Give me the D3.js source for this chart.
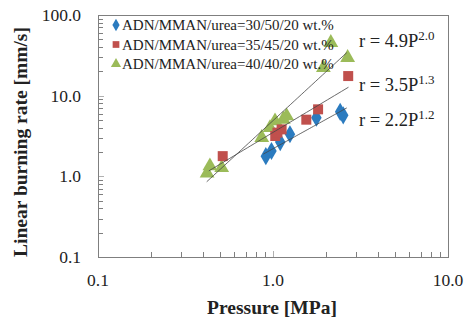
<!DOCTYPE html>
<html>
<head>
<meta charset="utf-8">
<script src="https://cdn.jsdelivr.net/npm/d3@7"></script>
<style>
  body { margin: 0; background: #fff; }
  text { font-family: "Liberation Serif", "Times New Roman", serif; fill: #222; }
</style>
</head>
<body>
<svg id="chart" width="467" height="320"></svg>
<script>
// series names
const seriesNames = [
  "ADN/MMAN/urea=30/50/20 wt.%",
  "ADN/MMAN/urea=35/45/20 wt.%",
  "ADN/MMAN/urea=40/40/20 wt.%"
];

// pressure [MPa] and burning rate [mm/s]
const pressure30 = [0.91, 0.98, 1.10, 1.25, 1.77, 2.42, 2.52];
const rate30 = [1.78, 2.06, 2.66, 3.32, 5.34, 6.3, 5.7];

const pressure35 = [0.516, 1.03, 1.06, 1.12, 1.55, 1.81, 2.69];
const rate35 = [1.78, 3.16, 3.48, 3.82, 5.04, 6.77, 17.5];

const pressure40 = [0.42, 0.436, 0.509, 0.862, 0.961, 1.027, 1.145, 1.197, 1.94, 2.14, 2.67];
const rate40 = [1.09, 1.34, 1.28, 3.02, 4.01, 4.84, 5.08, 5.59, 22.2, 45.4, 29.6];

// power law fits r = a P^n
const fitA = [2.2, 3.5, 4.9];
const fitN = [1.2, 1.3, 2.0];
const fitFrom = [0.88, 0.43, 0.418];
const fitTo = [2.64, 2.7, 2.64];
const fitLabels = ["2.2", "3.5", "4.9"];
const fitExpLabels = ["1.2", "1.3", "2.0"];

const xTicks = [0.1, 1, 10];
const yTicks = [0.1, 1, 10, 100];

const colors = ["#2b7bbf", "#c0504d", "#9bbb59"];
const shapes = [d3.symbolDiamond, d3.symbolSquare, d3.symbolTriangle];

const svg = d3.select("#chart");
const mLeft = 98, mRight = 448, mTop = 15, mBottom = 257;

const x = d3.scaleLog().domain([0.1, 10]).range([mLeft, mRight]);
const y = d3.scaleLog().domain([0.1, 100]).range([mBottom, mTop]);

// minor ticks
function minors(lo, hi) {
  let out = [];
  for (let e = lo; e < hi; e++) {
    for (let k = 2; k <= 9; k++) out.push(k * Math.pow(10, e));
  }
  return out;
}

const axes = svg.append("g").attr("stroke", "#7f7f7f").attr("stroke-width", 1);

axes.selectAll(".ym")
  .data(minors(-1, 2))
  .join("line")
  .attr("x1", mLeft).attr("x2", mLeft + 5)
  .attr("y1", d => Math.round(y(d)) + 0.5).attr("y2", d => Math.round(y(d)) + 0.5);

axes.selectAll(".yM")
  .data(yTicks)
  .join("line")
  .attr("stroke", "#b0b0b0")
  .attr("x1", mLeft).attr("x2", mLeft + 6)
  .attr("y1", d => Math.round(y(d)) + 0.5).attr("y2", d => Math.round(y(d)) + 0.5);

axes.selectAll(".xm")
  .data(minors(-1, 1))
  .join("line")
  .attr("y1", mBottom).attr("y2", mBottom - 5)
  .attr("x1", d => Math.round(x(d)) + 0.5).attr("x2", d => Math.round(x(d)) + 0.5);

axes.selectAll(".xM")
  .data(xTicks)
  .join("line")
  .attr("stroke", "#b0b0b0")
  .attr("y1", mBottom).attr("y2", mBottom - 6)
  .attr("x1", d => Math.round(x(d)) + 0.5).attr("x2", d => Math.round(x(d)) + 0.5);

svg.append("rect")
  .attr("x", mLeft + 0.5).attr("y", mTop + 0.5)
  .attr("width", mRight - mLeft).attr("height", mBottom - mTop)
  .attr("fill", "none").attr("stroke", "#7f7f7f");

// tick labels
svg.append("g").selectAll("text")
  .data(yTicks)
  .join("text")
  .attr("x", 81)
  .attr("y", d => y(d) + 6)
  .attr("text-anchor", "end")
  .attr("font-size", 17.5)
  .text(d => d3.format(".1f")(d));

svg.append("g").selectAll("text")
  .data(xTicks)
  .join("text")
  .attr("x", d => x(d))
  .attr("y", 286)
  .attr("text-anchor", "middle")
  .attr("font-size", 17.5)
  .text(d => d3.format(".1f")(d));

// axis titles
svg.append("text")
  .attr("x", 272).attr("y", 314)
  .attr("text-anchor", "middle")
  .attr("font-size", 19.5).attr("font-weight", "bold")
  .text("Pressure [MPa]");

svg.append("text")
  .attr("transform", "translate(27,142) rotate(-90)")
  .attr("text-anchor", "middle")
  .attr("font-size", 19.5).attr("font-weight", "bold")
  .text("Linear burning rate [mm/s]");

// markers
const series = [
  { p: pressure30, r: rate30 },
  { p: pressure35, r: rate35 },
  { p: pressure40, r: rate40 }
];
const drawOrder = [2, 0, 1];
const sizes = [95, 100, 95];

drawOrder.forEach(i => {
  const pts = d3.map(series[i].p, (p, j) => ({ p: p, r: series[i].r[j] }));
  svg.append("g").selectAll("path")
    .data(pts)
    .join("path")
    .attr("transform", d => `translate(${x(d.p)},${y(d.r)})`)
    .attr("d", d3.symbol().type(shapes[i]).size(sizes[i]))
    .attr("fill", colors[i]);
});

// fit lines
const fitG = svg.append("g").attr("stroke", "#444").attr("stroke-width", 0.8);
fitA.forEach((a, i) => {
  const ps = d3.range(0, 41).map(k => fitFrom[i] * Math.pow(fitTo[i] / fitFrom[i], k / 40));
  fitG.append("path")
    .datum(ps)
    .attr("fill", "none")
    .attr("d", d3.line().x(p => x(p)).y(p => y(a * Math.pow(p, fitN[i]))));
});

// fit equations
const eqY = [126, 91, 47];
fitA.forEach((a, i) => {
  const t = svg.append("text")
    .attr("x", 359).attr("y", eqY[i])
    .attr("font-size", 18.5);
  t.append("tspan").text("r = " + fitLabels[i] + "P");
  t.append("tspan").attr("font-size", 13).attr("dy", -7).text(fitExpLabels[i]);
});

// legend
const leg = svg.append("g");
seriesNames.forEach((name, i) => {
  const ly = 25 + i * 19.5;
  leg.append("path")
    .attr("transform", `translate(116,${ly})`)
    .attr("d", d3.symbol().type(shapes[i]).size(45))
    .attr("fill", colors[i]);
  leg.append("text")
    .attr("x", 122).attr("y", ly + 5)
    .attr("font-size", 15)
    .text(name);
});
</script>
</body>
</html>
